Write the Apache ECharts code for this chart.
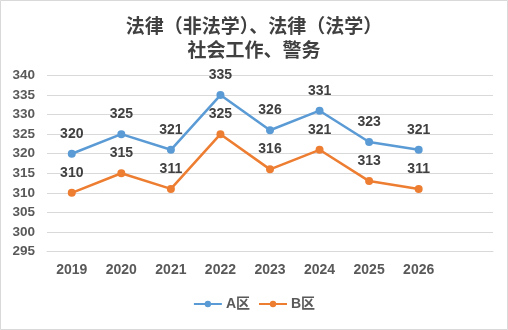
<!DOCTYPE html>
<html>
<head>
<meta charset="utf-8">
<script src="https://cdn.jsdelivr.net/npm/echarts@6/dist/echarts.min.js"></script>
<style>
  html, body { margin: 0; padding: 0; background: #fff; }
  #chart { width: 508px; height: 330px; }
</style>
</head>
<body>
<div id="chart"></div>
<script>
// Years on the category axis; the trailing blank slot leaves room on the right.
const years = ['2019', '2020', '2021', '2022', '2023', '2024', '2025', '2026', ''];
const seriesNames = ['A区', 'B区'];
const scoresA = [320, 325, 321, 335, 326, 331, 323, 321, null];
const scoresB = [310, 315, 311, 325, 316, 321, 313, 311, null];
const yTicks = { min: 295, max: 340, step: 5 };
const titleLines = ['法律（非法学）、法律（法学）', '社会工作、警务'];

const chart = echarts.init(document.getElementById('chart'));
const numFont = 'Liberation Sans, Arial, sans-serif';

function lineSeries(name, data, color) {
  return {
    name: name,
    type: 'line',
    data: data,
    symbol: 'circle',
    symbolSize: 8,
    lineStyle: { width: 2.5, color: color },
    itemStyle: { color: color },
    label: {
      show: true, position: 'top', distance: 9,
      fontFamily: numFont, fontWeight: 'bold', fontSize: 14, color: '#404040'
    },
    emphasis: { disabled: true },
    animation: false
  };
}

chart.setOption({
  backgroundColor: '#ffffff',
  graphic: [{
    type: 'rect',
    shape: { x: 0.5, y: 0.5, width: 507, height: 329 },
    style: { fill: 'none', stroke: '#d9d9d9', lineWidth: 1 },
    silent: true
  }],
  title: {
    text: titleLines.join('\n'),
    left: 'center',
    top: 9,
    textStyle: {
      fontFamily: 'Noto Sans CJK SC, sans-serif',
      fontWeight: 'bold',
      fontSize: 19,
      lineHeight: 24,
      color: '#404040'
    }
  },
  legend: {
    data: seriesNames,
    bottom: 14,
    left: 'center',
    itemWidth: 28,
    itemHeight: 8,
    itemGap: 8,
    textStyle: { fontFamily: 'Liberation Sans, Noto Sans CJK SC, sans-serif', fontWeight: 'bold', fontSize: 14, color: '#595959', padding: [0, 0, 0, -1] }
  },
  grid: { left: 47, right: 15, top: 75.5, height: 176, containLabel: false },
  xAxis: {
    type: 'category',
    data: years,
    boundaryGap: true,
    axisLine: { show: true, lineStyle: { color: '#d9d9d9', width: 1 } },
    axisTick: { show: false },
    axisLabel: { fontFamily: numFont, fontWeight: 'bold', fontSize: 14, color: '#595959', margin: 12 }
  },
  yAxis: {
    type: 'value',
    min: yTicks.min,
    max: yTicks.max,
    interval: yTicks.step,
    axisLine: { show: false },
    axisTick: { show: false },
    splitLine: { lineStyle: { color: '#d9d9d9', width: 1 } },
    axisLabel: { fontFamily: numFont, fontWeight: 'bold', fontSize: 13.5, color: '#595959', margin: 12 }
  },
  series: [
    lineSeries(seriesNames[0], scoresA, '#5B9BD5'),
    lineSeries(seriesNames[1], scoresB, '#ED7D31')
  ]
});
</script>
</body>
</html>
